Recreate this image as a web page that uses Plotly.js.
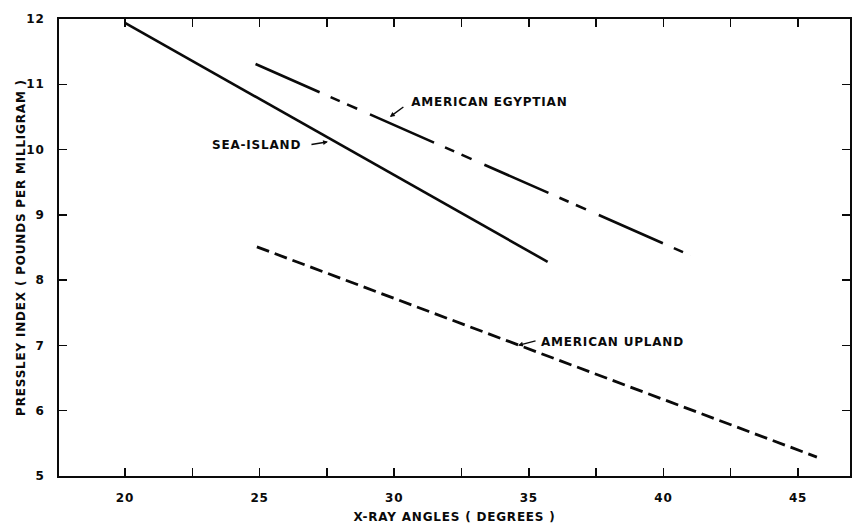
<!DOCTYPE html>
<html>
<head>
<meta charset="utf-8">
<script src="https://cdn.plot.ly/plotly-3.0.1.min.js"></script>
<style>
html,body{margin:0;padding:0;background:#fff;}
#chart{width:852px;height:530px;}
#chart text{letter-spacing:0.8px;}
</style>
</head>
<body>
<div id="chart"></div>
<script>
// Series
const seaIslandX = [20, 35.7];
const seaIslandY = [11.94, 8.28];
const egyptianX = [24.85, 41.0];
const egyptianY = [11.31, 8.38];
const uplandX = [24.9, 45.7];
const uplandY = [8.51, 5.29];

const xTickVals = [20, 22.5, 25, 27.5, 30, 32.5, 35, 37.5, 40, 42.5, 45];
const xTickText = ["20", "", "25", "", "30", "", "35", "", "40", "", "45"];
const yTickVals = [5, 6, 7, 8, 9, 10, 11, 12];
const yTickText = ["5", "6", "7", "8", "9", "10", "11", "12"];

const seriesNames = ["SEA-ISLAND", "AMERICAN EGYPTIAN", "AMERICAN UPLAND"];

const FONT = "DejaVu Sans, sans-serif";
const INK = "#0a0a0a";
const TXT = {family: FONT, size: 12, color: INK, weight: 700};

const traces = [
  {x: seaIslandX, y: seaIslandY, mode: "lines", name: seriesNames[0],
   line: {color: INK, width: 2.6, dash: "solid"}},
  {x: egyptianX, y: egyptianY, mode: "lines", name: seriesNames[1],
   line: {color: INK, width: 2.6, dash: "70px,12px,10px,8px,11px,14px"}},
  {x: uplandX, y: uplandY, mode: "lines", name: seriesNames[2],
   line: {color: INK, width: 2.8, dash: "13px,6px"}}
];

const arrowBase = {showarrow: true, text: "", arrowhead: 2, arrowsize: 0.7, arrowwidth: 1.4,
  arrowcolor: INK, xref: "x", yref: "y", axref: "pixel", ayref: "pixel"};

const layout = {
  width: 852, height: 530,
  margin: {l: 59, r: 2, t: 19, b: 54},
  paper_bgcolor: "#fff", plot_bgcolor: "#fff",
  showlegend: false,
  font: TXT,
  xaxis: {
    range: [17.55, 46.93], tickvals: xTickVals, ticktext: xTickText,
    ticks: "inside", ticklen: 8, tickwidth: 1.5, tickcolor: INK,
    showline: true, linewidth: 2, linecolor: INK, mirror: "ticks",
    showgrid: false, zeroline: false, ticklabelstandoff: 10,
    tickfont: TXT,
    title: {text: "X-RAY ANGLES ( DEGREES )", font: TXT, standoff: 8}
  },
  yaxis: {
    range: [5, 12], tickvals: yTickVals, ticktext: yTickText,
    ticks: "inside", ticklen: 8, tickwidth: 1.5, tickcolor: INK,
    showline: true, linewidth: 2, linecolor: INK, mirror: "ticks",
    showgrid: false, zeroline: false, ticklabelstandoff: 10,
    tickfont: TXT,
    title: {text: "PRESSLEY INDEX ( POUNDS PER MILLIGRAM )", font: TXT, standoff: 0}
  },
  annotations: [
    {x: 30.8, y: 10.73, xref: "x", yref: "y", text: seriesNames[1], showarrow: false,
     xanchor: "left", yanchor: "middle", font: TXT},
    {x: 26.45, y: 10.07, xref: "x", yref: "y", text: seriesNames[0], showarrow: false,
     xanchor: "right", yanchor: "middle", font: TXT},
    {x: 35.6, y: 7.05, xref: "x", yref: "y", text: seriesNames[2], showarrow: false,
     xanchor: "left", yanchor: "middle", font: TXT},
    Object.assign({}, arrowBase, {x: 29.84, y: 10.5, ax: 15, ay: -11}),
    Object.assign({}, arrowBase, {x: 27.54, y: 10.12, ax: -18, ay: 3}),
    Object.assign({}, arrowBase, {x: 34.6, y: 7.0, ax: 19, ay: -5})
  ]
};

Plotly.newPlot("chart", traces, layout, {displayModeBar: false, staticPlot: true});
</script>
</body>
</html>
